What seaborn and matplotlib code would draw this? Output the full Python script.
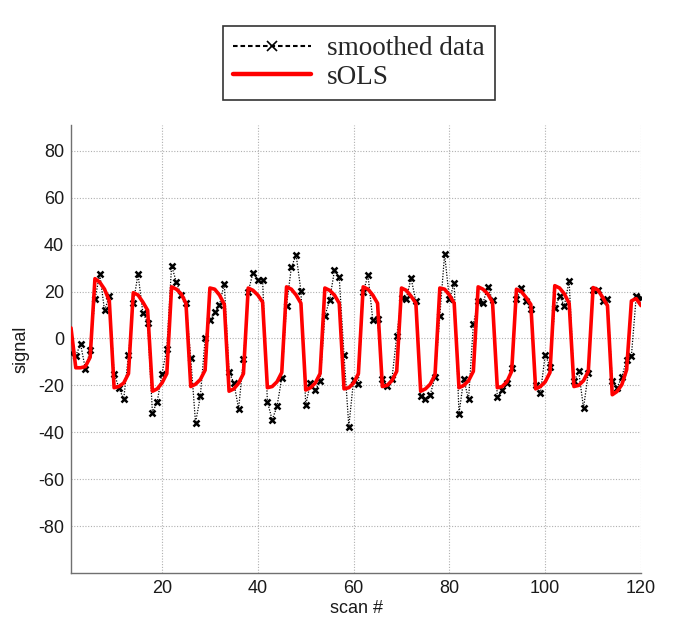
import numpy as np
import pandas as pd
import seaborn as sns
import matplotlib
matplotlib.use("Agg")
import matplotlib.pyplot as plt
from matplotlib.lines import Line2D

scan = list(range(1, 121))

smoothed = [
    -6, -7.3, -2.4, -13, -5, 16.7, 27.4, 12, 17.9, -15,
    -21, -26, -7, 15.3, 27.4, 11, 6.7, -31.6, -27, -15,
    -4.4, 31, 24, 18.4, 15.3, -8.3, -36, -24.7, 0, 8,
    11.3, 14.4, 23.4, -14.4, -19, -30, -8.7, 20, 28, 25,
    25, -27, -34.7, -29, -17, 14, 30.3, 35.6, 20.3, -28.3,
    -19, -22, -18.3, 9.6, 16.4, 29, 26, -7, -37.6, -17.6,
    -19.3, 19.6, 27, 8, 8.4, -17.3, -20.4, -17.3, 1, 17.4,
    17, 25.6, 16, -24.7, -26, -24, -16.4, 9.6, 36, 16.7,
    23.6, -32, -17.3, -26, 6, 16, 15, 22, 16.4, -25,
    -22, -19, -12.6, 16.7, 21.3, 16, 12.7, -19.7, -23.3, -7,
    -12, 13, 18, 14, 24.6, -18.3, -14, -29.7, -14.7, 20.5,
    20.5, 16, 17, -18.3, -21, -16.4, -9, -7.3, 17.9, 17.4,
]

sols = [
    4.5, -12.5, -12.5, -12, -8, 25.5, 24, 21, 16, -21,
    -20.5, -19, -15, 19.5, 18.5, 15.5, 12, -22.5, -21.5, -19,
    -15, 22, 21, 19, 15, -20.5, -19.5, -17.5, -13.5, 21.5,
    21, 18.5, 14.5, -22.5, -21.5, -19, -15, 21.5, 20.5, 18.5,
    15.5, -21, -20.5, -18.5, -14.5, 22, 21, 18.5, 15, -22,
    -21, -19, -15, 21.5, 20.5, 18.5, 15, -21.5, -21, -19,
    -15, 22, 21, 18.5, 15, -20.5, -20, -18, -14, 21.5,
    20.5, 18, 15, -22.5, -21.5, -19.5, -15.5, 21.5, 21, 18.5,
    15, -21, -20, -18, -14, 22, 21, 19, 15.5, -21,
    -20.5, -18.5, -14, 21, 20, 17.5, 14.5, -21.5, -20.5, -18.5,
    -14.5, 22.5, 21.5, 19, 15, -20.5, -20, -18, -14, 21.7,
    20.7, 17.5, 14, -24, -22.6, -19.7, -13.3, 16, 17, 14,
]

x_ticks = [20, 40, 60, 80, 100, 120]
y_ticks = [-80, -60, -40, -20, 0, 20, 40, 60, 80]
legend_labels = ["smoothed data", "sOLS"]

df = pd.DataFrame({"scan": scan, "smoothed": smoothed, "sols": sols})

sns.set_style("white")
plt.rcParams["font.family"] = ["Liberation Sans", "DejaVu Sans"]
plt.rcParams["axes.unicode_minus"] = False

fig = plt.figure(figsize=(6.8, 6.28), dpi=100)
ax = fig.add_axes([71 / 680, 1 - 573 / 628, 570 / 680, 448 / 628])

sns.lineplot(data=df, x="scan", y="smoothed", ax=ax, color="black",
             linestyle=(0, (1, 1.2)), linewidth=0.9, marker="x",
             markersize=5, markeredgewidth=1.8, markeredgecolor="black",
             estimator=None, sort=False, zorder=3)
sns.lineplot(data=df, x="scan", y="sols", ax=ax, color="#ff0000",
             linewidth=2.6, estimator=None, sort=False, zorder=4)

ax.set_xlim(1, 120)
ax.set_ylim(-100, 91)
ax.set_xticks(x_ticks)
ax.set_yticks(y_ticks)
ax.grid(True, color="#b0b0b0", linestyle=(0, (1, 1.5)), linewidth=0.8)
for s in ["top", "right"]:
    ax.spines[s].set_visible(False)
for s in ["left", "bottom"]:
    ax.spines[s].set_color("#707070")
    ax.spines[s].set_linewidth(1.0)
ax.tick_params(direction="in", length=4, color="#707070",
               labelsize=13, labelcolor="#1a1a1a", pad=5)
ax.set_xlabel("scan #", fontsize=13, color="#1a1a1a", labelpad=2)
ax.set_ylabel("signal", fontsize=13, color="#1a1a1a", labelpad=6)

handles = [
    Line2D([], [], color="black", linestyle=(0, (2.2, 1.4)), linewidth=1.5,
           marker="x", markersize=7, markeredgewidth=1.2),
    Line2D([], [], color="#ff0000", linewidth=3.2),
]
leg = fig.legend(handles, legend_labels, loc="center",
                 bbox_to_anchor=(359 / 680, 1 - 63 / 628),
                 prop={"family": "Liberation Serif", "size": 19.5},
                 frameon=True, fancybox=False, shadow=False,
                 handlelength=2.85, handletextpad=0.6, borderpad=0.4,
                 labelspacing=0.12, borderaxespad=0)
leg.get_frame().set_edgecolor("black")
leg.get_frame().set_linewidth(1.2)

fig.savefig("out.png", dpi=100)
